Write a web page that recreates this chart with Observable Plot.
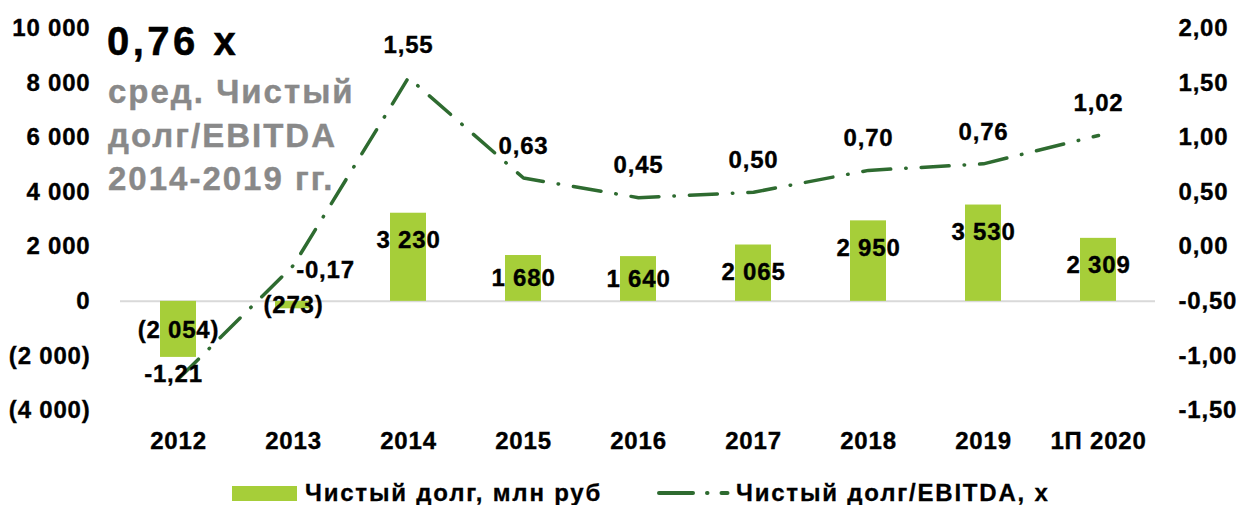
<!DOCTYPE html>
<html>
<head>
<meta charset="utf-8">
<script src="https://cdn.jsdelivr.net/npm/d3@7"></script>
<script src="https://cdn.jsdelivr.net/npm/@observablehq/plot@0.6"></script>
<style>
  html, body { margin: 0; padding: 0; background: #fff; }
  #wrap { position: relative; width: 1242px; height: 505px; overflow: hidden; font-family: "Liberation Sans", Arial, sans-serif; font-weight: bold; }
  #chart { position: absolute; left: 0; top: 0; }
  #chart text { font-size: 24px; letter-spacing: 0.8px; stroke: #000; stroke-width: 0.35px; }
  .big { position: absolute; left: 107px; top: 21px; font-size: 40px; line-height: 40px; color: #000; letter-spacing: 3.5px; white-space: nowrap; -webkit-text-stroke: 0.5px #000; }
  .grey { position: absolute; left: 108px; top: 70px; font-size: 33px; line-height: 43.5px; color: #898989; letter-spacing: 2px; white-space: nowrap; -webkit-text-stroke: 0.4px #898989; }
  .leg { position: absolute; top: 479px; height: 28px; display: flex; align-items: center; font-size: 24px; color: #000; white-space: nowrap; letter-spacing: 1.8px; -webkit-text-stroke: 0.3px #000; }
</style>
</head>
<body>
<div id="wrap">
  <div id="chart"></div>
  <div class="big">0,76 x</div>
  <div class="grey">сред. Чистый<br>долг/EBITDA<br>2014-2019 гг.</div>
  <div class="leg" style="left:232px"><span style="display:inline-block;width:65px;height:15px;background:#a6ce39;margin-right:8px"></span>Чистый долг, млн руб</div>
  <div class="leg" style="left:657px"><svg width="76" height="10" style="margin-right:3px"><line x1="2" y1="5" x2="74" y2="5" stroke="#2e6b30" stroke-width="4" stroke-linecap="round" stroke-dasharray="34,14,0.5,14,6,20"/></svg>Чистый долг/EBITDA, x</div>
</div>
<script>
const categories = ["2012", "2013", "2014", "2015", "2016", "2017", "2018", "2019", "1П 2020"];
const netDebt = [-2054, -273, 3230, 1680, 1640, 2065, 2950, 3530, 2309];
const netDebtEbitda = [-1.21, -0.17, 1.55, 0.63, 0.45, 0.50, 0.70, 0.76, 1.02];
const leftTicks = [-4000, -2000, 0, 2000, 4000, 6000, 8000, 10000];
const rightTicks = [-1.5, -1.0, -0.5, 0, 0.5, 1.0, 1.5, 2.0];

// right axis maps onto left-axis units: left = (right + 0.5) * 4000
const toLeft = r => (r + 0.5) * 4000;

const rows = categories.map((c, i) => ({cat: c, debt: netDebt[i], ratio: netDebtEbitda[i]}));

const thou = d3.format(",");
const fmtLeft = v => {
  const s = thou(Math.abs(v)).replace(/,/g, " ");
  return v < 0 ? `(${s})` : s;
};
const fmtRight = r => (Math.round(r * 100) / 100).toFixed(2).replace(".", ",");

// label anchor inside bar end (Excel "inside end", clamped to bar middle)
const barLabelY = v => Math.sign(v) * Math.max(Math.abs(v) - 1000, Math.abs(v) / 2);

const GREEN = "#a6ce39";
const LINE = "#2e6b30";

const special = {"2013": {dx: 32, dy: 5}, "2012": {dx: -5, dy: -5}};

const chart = Plot.plot({
  width: 1242,
  height: 460,
  marginLeft: 120,
  marginRight: 87,
  marginTop: 28,
  marginBottom: 50,
  style: {fontFamily: '"Liberation Sans", Arial, sans-serif', fontSize: "24px", fontWeight: "bold", color: "#000", background: "transparent"},
  x: {domain: categories, paddingInner: 0.687, paddingOuter: 0.3435, label: null},
  y: {domain: [-4000, 10000], label: null},
  marks: [
    Plot.ruleY([0], {stroke: "#d9d9d9", strokeWidth: 2}),
    Plot.barY(rows, {x: "cat", y: "debt", fill: GREEN}),
    Plot.lineY(rows, {x: "cat", y: d => toLeft(d.ratio), stroke: LINE, strokeWidth: 3.5, strokeLinecap: "round", strokeDasharray: "28,15,0.5,15"}),
    Plot.text(rows, {x: "cat", y: d => barLabelY(d.debt), text: d => fmtLeft(d.debt), fill: "#000", fontSize: 24}),
    Plot.text(rows.filter(d => !special[d.cat]), {x: "cat", y: d => toLeft(d.ratio), text: d => fmtRight(d.ratio), dy: -32, fill: "#000", fontSize: 24}),
    Plot.text(rows.filter(d => d.cat === "2013"), {x: "cat", y: d => toLeft(d.ratio), text: d => fmtRight(d.ratio), dx: special["2013"].dx, dy: special["2013"].dy, fill: "#000", fontSize: 24}),
    Plot.text(rows.filter(d => d.cat === "2012"), {x: "cat", y: d => toLeft(d.ratio), text: d => fmtRight(d.ratio), dx: special["2012"].dx, dy: special["2012"].dy, fill: "#000", fontSize: 24}),
    Plot.axisY({anchor: "left", ticks: leftTicks, tickFormat: fmtLeft, tickSize: 0, tickPadding: 30, label: null, fontSize: 24}),
    Plot.axisY({anchor: "right", ticks: rightTicks.map(toLeft), tickFormat: v => fmtRight(v / 4000 - 0.5), tickSize: 0, tickPadding: 23, label: null, fontSize: 24}),
    Plot.axisX({anchor: "bottom", tickSize: 0, tickPadding: 21, label: null, fontSize: 24})
  ]
});
document.getElementById("chart").appendChild(chart);
</script>
</body>
</html>
